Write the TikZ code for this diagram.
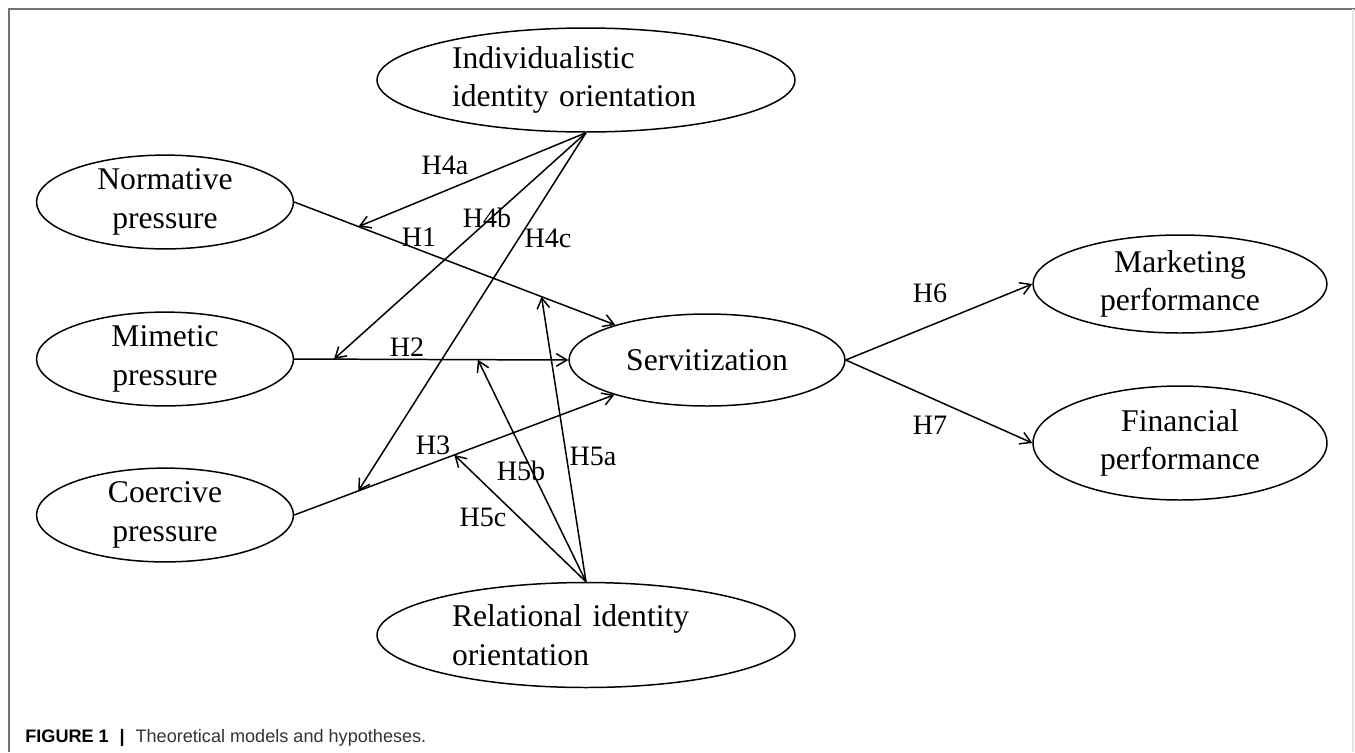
\documentclass[tikz,border=0pt]{standalone}
\usepackage{fontspec}
\setmainfont{Liberation Serif}
\newfontfamily\captionfont{Liberation Sans}
\usepackage{tikz}
\usetikzlibrary{
  shapes.geometric,
  arrows.meta
}

\begin{document}
\begin{tikzpicture}[
        x=0.02cm,y=-0.02cm,
        construct/.style={
            ellipse,
            draw,
            line width=0.85pt,
            inner sep=0pt,
            align=center,
            font=\fontsize{18}{22}\selectfont
          },wide/.style={
            construct,
            minimum width=8.36cm,
            text width=5.36cm,
            align=left
          },hypo/.style={
            line width=0.85pt,
            -{Straight Barb[length=2.1mm,width=2.5mm]}
          },hlabel/.style={
            inner sep=0pt,
            font=\fontsize{16}{19}\selectfont
          }
      ]
      \useasboundingbox (0,0) rectangle (1355,752);

      % 枠
      \draw[black!55, line width=0.8pt] (9,752) -- (9,9) -- (1355,9);
      \draw[black!10, line width=0.8pt] (1353,9) -- (1353,752);

      % 構成概念
      \node[wide, minimum height=2.08cm] (indiv) at (586,80) {Individualistic\\identity orientation};
      \node[construct, minimum width=5.14cm, minimum height=1.84cm] (norm) at (165,202) {Normative\\pressure};
      \node[construct, minimum width=5.14cm, minimum height=1.84cm] (mim) at (165,359) {Mimetic\\pressure};
      \node[construct, minimum width=5.14cm, minimum height=1.84cm] (coer) at (165,515) {Coercive\\pressure};
      \node[construct, minimum width=5.52cm, minimum height=1.84cm] (serv) at (707,360) {Servitization};
      \node[construct, minimum width=5.88cm, minimum height=1.96cm] (mark) at (1180,284) {Marketing\\performance};
      \node[construct, minimum width=5.88cm, minimum height=2.28cm] (fin) at (1180,443) {Financial\\performance};
      \node[wide, minimum height=2.1cm] (rel) at (586,635) {Relational identity\\orientation};

      % 主効果
      \draw[hypo] (norm.east) -- coordinate[pos=.2] (t4a) coordinate[pos=.77] (t5a) (serv);
      \draw[hypo] (mim.east) -- coordinate[pos=.145] (t4b) coordinate[pos=.67] (t5b) (serv.west);
      \draw[hypo] (coer.east) -- coordinate[pos=.2] (t4c) coordinate[pos=.5] (t5c) (serv);
      \draw[hypo] (serv.east) -- (mark.west);
      \draw[hypo] (serv.east) -- (fin.west);

      % 調整効果
      \draw[hypo] (indiv.south) -- (t4a);
      \draw[hypo] (indiv.south) -- (t4b);
      \draw[hypo] (indiv.south) -- (t4c);
      \draw[hypo] (rel.north) -- (t5a);
      \draw[hypo] (rel.north) -- (t5b);
      \draw[hypo] (rel.north) -- (t5c);

      % 仮説ラベル
      \node[hlabel] (h1) at (419,237) {H1};
      \node[hlabel] (h2) at (407,347) {H2};
      \node[hlabel] (h3) at (433,445) {H3};
      \node[hlabel] (h4a) at (445,165) {H4a};
      \node[hlabel] (h4b) at (487,218) {H4b};
      \node[hlabel] (h4c) at (548,238) {H4c};
      \node[hlabel] (h5a) at (593,456) {H5a};
      \node[hlabel] (h5b) at (521,471) {H5b};
      \node[hlabel] (h5c) at (483,517) {H5c};
      \node[hlabel] (h6) at (930,293) {H6};
      \node[hlabel] (h7) at (930,425) {H7};

      % キャプション
      \node[anchor=base west, inner sep=0pt, text=black!80,
        font=\captionfont\fontsize{10.3}{12}\selectfont] (caption) at (25,742)
        {\textcolor{black}{\textbf{FIGURE 1}\hspace{0.6em}\textbf{|}}\hspace{0.6em}Theoretical models and hypotheses.};

    \end{tikzpicture}
\end{document}
